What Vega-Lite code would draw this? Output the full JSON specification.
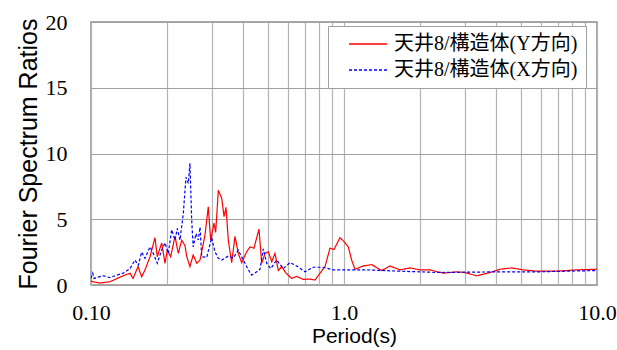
{
  "$schema": "https://vega.github.io/schema/vega-lite/v6.json",
  "width": 506,
  "height": 263,
  "autosize": {"type": "none"},
  "padding": {"left": 91, "top": 22, "right": 20, "bottom": 65},
  "background": "white",
  "config": {"view": {"stroke": "#8c8c8c", "strokeWidth": 1.5}},
  "data": {"values": [
    {"p":0.1,"v":0.3,"s":"天井8/構造体(Y方向)"},{"p":0.1016,"v":0.25,"s":"天井8/構造体(Y方向)"},{"p":0.1085,"v":0.15,"s":"天井8/構造体(Y方向)"},{"p":0.1189,"v":0.25,"s":"天井8/構造体(Y方向)"},{"p":0.1302,"v":0.6,"s":"天井8/構造体(Y方向)"},{"p":0.1427,"v":0.9,"s":"天井8/構造体(Y方向)"},{"p":0.1466,"v":0.5,"s":"天井8/構造体(Y方向)"},{"p":0.1534,"v":1.4,"s":"天井8/構造体(Y方向)"},{"p":0.1586,"v":0.63,"s":"天井8/構造体(Y方向)"},{"p":0.1635,"v":1.15,"s":"天井8/構造体(Y方向)"},{"p":0.1711,"v":2.15,"s":"天井8/構造体(Y方向)"},{"p":0.179,"v":3.6,"s":"天井8/構造体(Y方向)"},{"p":0.1828,"v":2.15,"s":"天井8/構造体(Y方向)"},{"p":0.1903,"v":3.2,"s":"天井8/構造体(Y方向)"},{"p":0.1961,"v":1.65,"s":"天井8/構造体(Y方向)"},{"p":0.2002,"v":2.66,"s":"天井8/構造体(Y方向)"},{"p":0.2065,"v":2.15,"s":"天井8/構造体(Y方向)"},{"p":0.2148,"v":3.7,"s":"天井8/構造体(Y方向)"},{"p":0.2213,"v":2.4,"s":"天井8/構造体(Y方向)"},{"p":0.2283,"v":3.4,"s":"天井8/構造体(Y方向)"},{"p":0.2352,"v":3.0,"s":"天井8/構造体(Y方向)"},{"p":0.2388,"v":2.2,"s":"天井8/構造体(Y方向)"},{"p":0.2461,"v":1.4,"s":"天井8/構造体(Y方向)"},{"p":0.2535,"v":2.28,"s":"天井8/構造体(Y方向)"},{"p":0.2618,"v":1.65,"s":"天井8/構造体(Y方向)"},{"p":0.2698,"v":1.9,"s":"天井8/構造体(Y方向)"},{"p":0.2822,"v":3.8,"s":"天井8/構造体(Y方向)"},{"p":0.2908,"v":5.95,"s":"天井8/構造体(Y方向)"},{"p":0.2972,"v":3.4,"s":"天井8/構造体(Y方向)"},{"p":0.3062,"v":4.7,"s":"天井8/構造体(Y方向)"},{"p":0.311,"v":4.0,"s":"天井8/構造体(Y方向)"},{"p":0.3186,"v":7.2,"s":"天井8/構造体(Y方向)"},{"p":0.3286,"v":6.6,"s":"天井8/構造体(Y方向)"},{"p":0.3356,"v":5.2,"s":"天井8/構造体(Y方向)"},{"p":0.3417,"v":5.9,"s":"天井8/構造体(Y方向)"},{"p":0.3489,"v":3.4,"s":"天井8/構造体(Y方向)"},{"p":0.3598,"v":1.7,"s":"天井8/構造体(Y方向)"},{"p":0.3708,"v":3.7,"s":"天井8/構造体(Y方向)"},{"p":0.382,"v":2.4,"s":"天井8/構造体(Y方向)"},{"p":0.3942,"v":1.7,"s":"天井8/構造体(Y方向)"},{"p":0.4125,"v":2.53,"s":"天井8/構造体(Y方向)"},{"p":0.4252,"v":2.9,"s":"天井8/構造体(Y方向)"},{"p":0.4406,"v":2.8,"s":"天井8/構造体(Y方向)"},{"p":0.4613,"v":4.25,"s":"天井8/構造体(Y方向)"},{"p":0.4728,"v":1.65,"s":"天井8/構造体(Y方向)"},{"p":0.4872,"v":2.4,"s":"天井8/構造体(Y方向)"},{"p":0.5021,"v":2.53,"s":"天井8/構造体(Y方向)"},{"p":0.518,"v":1.77,"s":"天井8/構造体(Y方向)"},{"p":0.5337,"v":2.4,"s":"天井8/構造体(Y方向)"},{"p":0.55,"v":1.1,"s":"天井8/構造体(Y方向)"},{"p":0.5673,"v":1.4,"s":"天井8/構造体(Y方向)"},{"p":0.59,"v":0.9,"s":"天井8/構造体(Y方向)"},{"p":0.621,"v":0.5,"s":"天井8/構造体(Y方向)"},{"p":0.65,"v":0.65,"s":"天井8/構造体(Y方向)"},{"p":0.69,"v":0.43,"s":"天井8/構造体(Y方向)"},{"p":0.734,"v":0.45,"s":"天井8/構造体(Y方向)"},{"p":0.768,"v":0.38,"s":"天井8/構造体(Y方向)"},{"p":0.804,"v":0.9,"s":"天井8/構造体(Y方向)"},{"p":0.841,"v":1.4,"s":"天井8/構造体(Y方向)"},{"p":0.8806,"v":2.8,"s":"天井8/構造体(Y方向)"},{"p":0.913,"v":2.7,"s":"天井8/構造体(Y方向)"},{"p":0.964,"v":3.6,"s":"天井8/構造体(Y方向)"},{"p":1.0,"v":3.3,"s":"天井8/構造体(Y方向)"},{"p":1.04,"v":2.9,"s":"天井8/構造体(Y方向)"},{"p":1.072,"v":1.9,"s":"天井8/構造体(Y方向)"},{"p":1.105,"v":1.2,"s":"天井8/構造体(Y方向)"},{"p":1.191,"v":1.45,"s":"天井8/構造体(Y方向)"},{"p":1.287,"v":1.55,"s":"天井8/構造体(Y方向)"},{"p":1.409,"v":1.1,"s":"天井8/構造体(Y方向)"},{"p":1.52,"v":1.45,"s":"天井8/構造体(Y方向)"},{"p":1.665,"v":1.15,"s":"天井8/構造体(Y方向)"},{"p":1.824,"v":1.3,"s":"天井8/構造体(Y方向)"},{"p":1.995,"v":1.15,"s":"天井8/構造体(Y方向)"},{"p":2.188,"v":1.15,"s":"天井8/構造体(Y方向)"},{"p":2.47,"v":0.9,"s":"天井8/構造体(Y方向)"},{"p":2.79,"v":1.0,"s":"天井8/構造体(Y方向)"},{"p":3.0,"v":0.95,"s":"天井8/構造体(Y方向)"},{"p":3.346,"v":0.7,"s":"天井8/構造体(Y方向)"},{"p":3.776,"v":0.95,"s":"天井8/構造体(Y方向)"},{"p":4.137,"v":1.2,"s":"天井8/構造体(Y方向)"},{"p":4.6,"v":1.3,"s":"天井8/構造体(Y方向)"},{"p":5.113,"v":1.15,"s":"天井8/構造体(Y方向)"},{"p":5.777,"v":1.05,"s":"天井8/構造体(Y方向)"},{"p":6.93,"v":1.05,"s":"天井8/構造体(Y方向)"},{"p":8.31,"v":1.15,"s":"天井8/構造体(Y方向)"},{"p":10,"v":1.2,"s":"天井8/構造体(Y方向)"},
    {"p":0.1,"v":0.5,"s":"天井8/構造体(X方向)"},{"p":0.1016,"v":0.9,"s":"天井8/構造体(X方向)"},{"p":0.1028,"v":0.5,"s":"天井8/構造体(X方向)"},{"p":0.1069,"v":0.6,"s":"天井8/構造体(X方向)"},{"p":0.1118,"v":0.7,"s":"天井8/構造体(X方向)"},{"p":0.1189,"v":0.56,"s":"天井8/構造体(X方向)"},{"p":0.1264,"v":0.75,"s":"天井8/構造体(X方向)"},{"p":0.1342,"v":0.9,"s":"天井8/構造体(X方向)"},{"p":0.1427,"v":1.25,"s":"天井8/構造体(X方向)"},{"p":0.1493,"v":1.9,"s":"天井8/構造体(X方向)"},{"p":0.1538,"v":1.5,"s":"天井8/構造体(X方向)"},{"p":0.1586,"v":2.5,"s":"天井8/構造体(X方向)"},{"p":0.1635,"v":2.03,"s":"天井8/構造体(X方向)"},{"p":0.1711,"v":2.9,"s":"天井8/構造体(X方向)"},{"p":0.1763,"v":2.4,"s":"天井8/構造体(X方向)"},{"p":0.1828,"v":1.65,"s":"天井8/構造体(X方向)"},{"p":0.1903,"v":2.66,"s":"天井8/構造体(X方向)"},{"p":0.1961,"v":3.2,"s":"天井8/構造体(X方向)"},{"p":0.2021,"v":2.4,"s":"天井8/構造体(X方向)"},{"p":0.2084,"v":4.2,"s":"天井8/構造体(X方向)"},{"p":0.2148,"v":3.42,"s":"天井8/構造体(X方向)"},{"p":0.2193,"v":4.3,"s":"天井8/構造体(X方向)"},{"p":0.2248,"v":3.42,"s":"天井8/構造体(X方向)"},{"p":0.2317,"v":5.45,"s":"天井8/構造体(X方向)"},{"p":0.2374,"v":8.2,"s":"天井8/構造体(X方向)"},{"p":0.2424,"v":7.73,"s":"天井8/構造体(X方向)"},{"p":0.2461,"v":9.25,"s":"天井8/構造体(X方向)"},{"p":0.25,"v":4.94,"s":"天井8/構造体(X方向)"},{"p":0.2535,"v":2.9,"s":"天井8/構造体(X方向)"},{"p":0.26,"v":3.9,"s":"天井8/構造体(X方向)"},{"p":0.2655,"v":3.42,"s":"天井8/構造体(X方向)"},{"p":0.2698,"v":4.4,"s":"天井8/構造体(X方向)"},{"p":0.2739,"v":2.15,"s":"天井8/構造体(X方向)"},{"p":0.2867,"v":2.1,"s":"天井8/構造体(X方向)"},{"p":0.2999,"v":3.6,"s":"天井8/構造体(X方向)"},{"p":0.309,"v":2.53,"s":"天井8/構造体(X方向)"},{"p":0.3186,"v":2.03,"s":"天井8/構造体(X方向)"},{"p":0.3286,"v":1.9,"s":"天井8/構造体(X方向)"},{"p":0.3489,"v":2.2,"s":"天井8/構造体(X方向)"},{"p":0.3651,"v":2.05,"s":"天井8/構造体(X方向)"},{"p":0.382,"v":2.65,"s":"天井8/構造体(X方向)"},{"p":0.3999,"v":1.9,"s":"天井8/構造体(X方向)"},{"p":0.4186,"v":1.15,"s":"天井8/構造体(X方向)"},{"p":0.4317,"v":0.75,"s":"天井8/構造体(X方向)"},{"p":0.4519,"v":1.0,"s":"天井8/構造体(X方向)"},{"p":0.4656,"v":1.2,"s":"天井8/構造体(X方向)"},{"p":0.4798,"v":2.75,"s":"天井8/構造体(X方向)"},{"p":0.4949,"v":1.65,"s":"天井8/構造体(X方向)"},{"p":0.5133,"v":1.25,"s":"天井8/構造体(X方向)"},{"p":0.542,"v":1.9,"s":"天井8/構造体(X方向)"},{"p":0.5754,"v":1.25,"s":"天井8/構造体(X方向)"},{"p":0.6118,"v":1.7,"s":"天井8/構造体(X方向)"},{"p":0.65,"v":1.45,"s":"天井8/構造体(X方向)"},{"p":0.7013,"v":1.0,"s":"天井8/構造体(X方向)"},{"p":0.7562,"v":1.35,"s":"天井8/構造体(X方向)"},{"p":0.828,"v":1.35,"s":"天井8/構造体(X方向)"},{"p":0.9073,"v":1.15,"s":"天井8/構造体(X方向)"},{"p":1.229,"v":1.15,"s":"天井8/構造体(X方向)"},{"p":1.665,"v":1.05,"s":"天井8/構造体(X方向)"},{"p":2.393,"v":0.95,"s":"天井8/構造体(X方向)"},{"p":4.015,"v":1.0,"s":"天井8/構造体(X方向)"},{"p":5.777,"v":1.0,"s":"天井8/構造体(X方向)"},{"p":10,"v":1.1,"s":"天井8/構造体(X方向)"}
  ]},
  "mark": {"type": "line", "strokeWidth": 1.2, "clip": true},
  "encoding": {
    "x": {
      "field": "p", "type": "quantitative",
      "scale": {"type": "log", "domain": [0.1, 10]},
      "axis": {
        "title": "Period(s)",
        "values": [0.1,0.2,0.3,0.4,0.5,0.6,0.7,0.8,0.9,1,2,3,4,5,6,7,8,9,10],
        "labelExpr": "datum.value == 0.1 ? '0.10' : datum.value == 1 ? '1.0' : datum.value == 10 ? '10.0' : ''",
        "grid": true, "gridColor": "#b4b4b4", "gridWidth": 1.2,
        "ticks": false, "domain": false,
        "labelFont": "Liberation Serif", "labelFontSize": 22, "labelColor": "black",
        "labelPadding": 17, "labelFlush": false, "labelOverlap": false,
        "titleFont": "Liberation Sans", "titleFontSize": 21, "titleFontWeight": "normal",
        "titleColor": "black", "titlePadding": 2, "titleX": 263
      }
    },
    "y": {
      "field": "v", "type": "quantitative",
      "scale": {"domain": [0, 20], "nice": false},
      "axis": {
        "title": "Fourier Spectrum Ratios",
        "values": [0, 5, 10, 15, 20],
        "grid": true, "gridColor": "#a0a0a0", "gridWidth": 1.2,
        "ticks": false, "domain": false,
        "labelFont": "Liberation Serif", "labelFontSize": 22, "labelColor": "black",
        "labelPadding": 24,
        "titleFont": "Liberation Sans", "titleFontSize": 25, "titleFontWeight": "normal",
        "titleColor": "black", "titlePadding": 4
      }
    },
    "color": {
      "field": "s", "type": "nominal",
      "scale": {"domain": ["天井8/構造体(Y方向)", "天井8/構造体(X方向)"], "range": ["#ff0000", "#0000ff"]},
      "legend": {
        "title": null, "orient": "none", "legendX": 237, "legendY": 4,
        "fillColor": "white", "strokeColor": "#a0a0a0", "padding": 8,
        "symbolType": "stroke", "symbolSize": 1444, "symbolStrokeWidth": 1.3, "symbolOffset": 12,
        "labelFont": "'Liberation Serif', 'Noto Sans CJK JP'", "labelFontSize": 20,
        "labelColor": "black", "labelOffset": 6, "clipHeight": 20, "rowPadding": 6, "labelLimit": 400
      }
    },
    "strokeDash": {
      "field": "s", "type": "nominal",
      "scale": {"domain": ["天井8/構造体(Y方向)", "天井8/構造体(X方向)"], "range": [[1, 0], [3, 2]]},
      "legend": null
    }
  }
}
